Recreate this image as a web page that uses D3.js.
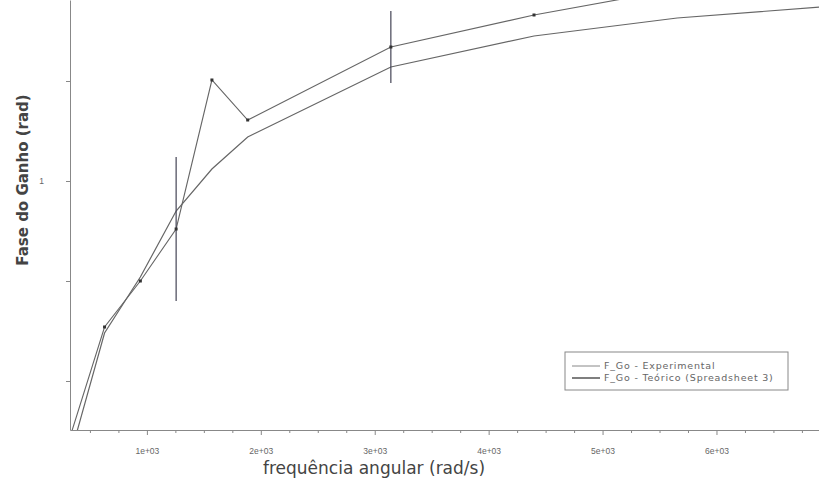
<!DOCTYPE html>
<html>
<head>
<meta charset="utf-8">
<script src="https://cdn.jsdelivr.net/npm/d3@7"></script>
<style>
  body { margin: 0; background: #fff; }
  svg { display: block; font-family: "DejaVu Sans", sans-serif; }
</style>
</head>
<body>
<svg id="chart" width="819" height="492"></svg>
<script>
// frequência angular (rad/s)
var omega = [314.16, 628.32, 942.48, 1256.64, 1570.80, 1884.96, 3141.59, 4398.23, 5654.87, 6911.50];
// fase experimental e erro
var phaseExp = [0.35, 0.635, 0.75, 0.88, 1.2525, 1.1525, 1.335, 1.415, 1.48, 1.53];
var phaseExpErr = [0, 0, 0, 0.18, 0, 0, 0.09, 0, 0, 0];
// fase teórica
var phaseTeo = [0.30, 0.62, 0.76, 0.925, 1.03, 1.11, 1.285, 1.3625, 1.4075, 1.435];

var xMajor = [1000, 2000, 3000, 4000, 5000, 6000];
var xMinor = [500, 750, 1250, 1500, 1750, 2250, 2500, 2750, 3250, 3500, 3750, 4250, 4500, 4750, 5250, 5500, 5750, 6250, 6500, 6750];
var yTicks = [0.5, 0.75, 1, 1.25];
var yLabels = [1];

var legendNames = ["F_Go - Experimental", "F_Go - Teórico (Spreadsheet 3)"];

var svg = d3.select("#chart");
var pLeft = 70, pRight = 819, pTop = 0, pBottom = 430;

var x = d3.scaleLinear().domain([325, 6900]).range([pLeft, pRight]);
var y = d3.scaleLinear().domain([0.3775, 1.4525]).range([pBottom, pTop]);

svg.append("defs").append("clipPath")
    .attr("id", "plotclip")
    .append("rect")
    .attr("x", pLeft).attr("y", pTop)
    .attr("width", pRight - pLeft).attr("height", pBottom - pTop);

// eixos
svg.append("g")
    .attr("class", "xaxis")
    .attr("transform", "translate(0," + pBottom + ")")
    .call(d3.axisBottom(x).tickValues(xMajor).tickSize(5).tickSizeOuter(0).tickPadding(13)
        .tickFormat(function(d){ return (d / 1000) + "e+03"; }));
svg.append("g")
    .attr("transform", "translate(0," + pBottom + ")")
    .call(d3.axisBottom(x).tickValues(xMinor).tickSize(3).tickFormat(""))
    .select(".domain").remove();

svg.append("g")
    .attr("class", "yaxis")
    .attr("transform", "translate(" + pLeft + ",0)")
    .call(d3.axisLeft(y).tickValues(yTicks).tickSize(4).tickSizeOuter(0).tickPadding(22)
        .tickFormat(function(d){ return yLabels.indexOf(d) >= 0 ? d : ""; }));

svg.selectAll(".xaxis path, .yaxis path, .tick line")
    .attr("stroke", "#888");
svg.selectAll(".tick text")
    .attr("fill", "#666")
    .style("font-size", "8.5px");

svg.append("text")
    .attr("x", 374).attr("y", 474)
    .attr("text-anchor", "middle")
    .style("font-size", "17px")
    .attr("fill", "#444")
    .text("frequência angular (rad/s)");

svg.append("text")
    .attr("transform", "translate(28,180) rotate(-90)")
    .attr("text-anchor", "middle")
    .style("font-size", "15px")
    .style("font-weight", "bold")
    .attr("fill", "#444")
    .text("Fase do Ganho (rad)");

// séries
var plot = svg.append("g").attr("clip-path", "url(#plotclip)");

var line = d3.line()
    .x(function(d, i){ return x(omega[i]); })
    .y(function(d){ return y(d); });

plot.append("path")
    .datum(phaseTeo)
    .attr("fill", "none")
    .attr("stroke", "#666")
    .attr("stroke-width", 1.2)
    .attr("d", line);

plot.append("path")
    .datum(phaseExp)
    .attr("fill", "none")
    .attr("stroke", "#666")
    .attr("stroke-width", 1.1)
    .attr("d", line);

var errIdx = d3.range(omega.length).filter(function(i){ return phaseExpErr[i] > 0; });
plot.selectAll(".errbar")
    .data(errIdx)
    .enter()
    .append("line")
    .attr("class", "errbar")
    .attr("x1", function(i){ return x(omega[i]); })
    .attr("x2", function(i){ return x(omega[i]); })
    .attr("y1", function(i){ return y(phaseExp[i] + phaseExpErr[i]); })
    .attr("y2", function(i){ return y(phaseExp[i] - phaseExpErr[i]); })
    .attr("stroke", "#445")
    .attr("stroke-width", 1.2);

plot.selectAll(".mark")
    .data(phaseExp)
    .enter()
    .append("rect")
    .attr("class", "mark")
    .attr("x", function(d, i){ return x(omega[i]) - 1.5; })
    .attr("y", function(d){ return y(d) - 1.5; })
    .attr("width", 3)
    .attr("height", 3)
    .attr("fill", "#333");

// legenda
var lg = svg.append("g").attr("transform", "translate(565,352)");
lg.append("rect")
    .attr("width", 223).attr("height", 38)
    .attr("fill", "#fff")
    .attr("stroke", "#888");
lg.selectAll("line.leg")
    .data(legendNames)
    .enter()
    .append("line")
    .attr("class", "leg")
    .attr("x1", 7).attr("x2", 35)
    .attr("y1", function(d, i){ return 14 + i * 12; })
    .attr("y2", function(d, i){ return 14 + i * 12; })
    .attr("stroke", function(d, i){ return i ? "#555" : "#888"; })
    .attr("stroke-width", function(d, i){ return i ? 1.5 : 1; });
lg.selectAll("text.leg")
    .data(legendNames)
    .enter()
    .append("text")
    .attr("class", "leg")
    .attr("x", 39)
    .attr("y", function(d, i){ return 17 + i * 12; })
    .style("font-size", "9.5px")
    .style("letter-spacing", "0.8px")
    .attr("fill", "#666")
    .text(function(d){ return d; });
</script>
</body>
</html>
